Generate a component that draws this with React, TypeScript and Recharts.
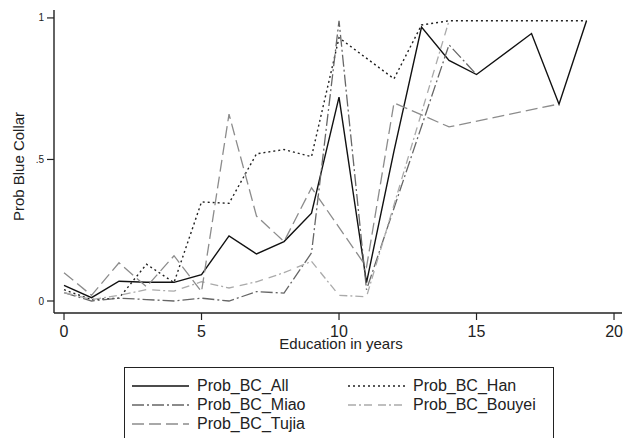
import React from 'react';
import { LineChart, Line, XAxis, YAxis } from 'recharts';

const EDUCATION = [0, 1, 2, 3, 4, 5, 6, 7, 8, 9, 10, 11, 12, 13, 14, 15, 16, 17, 18, 19];

const PROB_ALL = [0.055, 0.012, 0.07, 0.066, 0.066, 0.093, 0.23, 0.166, 0.21, 0.31, 0.72, 0.065, 0.53, 0.968, 0.85, 0.8, null, 0.945, 0.695, 0.99];
const PROB_HAN = [0.04, 0.005, 0.01, 0.13, 0.065, 0.35, 0.345, 0.52, 0.535, 0.51, 0.93, null, 0.785, 0.975, 0.99, null, null, null, null, 0.99];
const PROB_MIAO = [0.03, 0.0, 0.01, 0.005, 0.0, 0.01, 0.0, 0.033, 0.028, 0.17, 0.99, 0.04, null, null, 0.905, 0.8, null, null, null, null];
const PROB_BOUYEI = [0.03, 0.005, 0.02, 0.04, 0.035, 0.068, 0.046, 0.068, 0.1, 0.14, 0.02, 0.015, null, null, 0.99, null, null, null, null, null];
const PROB_TUJIA = [0.1, 0.02, 0.135, 0.05, 0.16, 0.033, 0.66, 0.3, 0.21, 0.4, 0.26, 0.12, 0.7, null, 0.615, null, null, null, 0.696, null];

const X_TICKS = [0, 5, 10, 15, 20];
const Y_TICKS = [0, 0.5, 1];
const Y_TICK_LABELS = ['0', '.5', '1'];

const data = EDUCATION.map((edu, i) => ({
  edu,
  all: PROB_ALL[i],
  han: PROB_HAN[i],
  miao: PROB_MIAO[i],
  bouyei: PROB_BOUYEI[i],
  tujia: PROB_TUJIA[i],
}));

const FONT = '"Liberation Sans", Arial, sans-serif';

const SERIES = [
  { key: 'all', name: 'Prob_BC_All', stroke: '#111', dash: undefined as string | undefined, width: 1.4 },
  { key: 'han', name: 'Prob_BC_Han', stroke: '#222', dash: '2 3', width: 1.4 },
  { key: 'miao', name: 'Prob_BC_Miao', stroke: '#666', dash: '12 3 2 3', width: 1.3 },
  { key: 'bouyei', name: 'Prob_BC_Bouyei', stroke: '#aaa', dash: '8 3 2 3 8 6', width: 1.3 },
  { key: 'tujia', name: 'Prob_BC_Tujia', stroke: '#8c8c8c', dash: '12 5', width: 1.3 },
];

// legend order as in the original (two columns, row major)
const LEGEND_ORDER = ['all', 'han', 'miao', 'bouyei', 'tujia'];

const LegendBox: React.FC = () => (
  <div
    style={{
      position: 'absolute',
      left: 124,
      top: 367,
      width: 430,
      height: 90,
      border: '1px solid #222',
      fontFamily: FONT,
      fontSize: 16,
      color: '#222',
      display: 'grid',
      gridTemplateColumns: '216px 214px',
      gridAutoRows: '19px',
      paddingTop: 8,
      boxSizing: 'border-box',
    }}
  >
    {LEGEND_ORDER.map(k => {
      const s = SERIES.find(x => x.key === k)!;
      return (
        <div key={k} style={{ display: 'flex', alignItems: 'center', whiteSpace: 'nowrap' }}>
          <svg width={72} height={19} style={{ flex: 'none' }}>
            <line x1={7} x2={64} y1={10} y2={10} stroke={s.stroke} strokeWidth={s.width} strokeDasharray={s.dash} />
          </svg>
          <span>{s.name}</span>
        </div>
      );
    })}
  </div>
);

const App: React.FC = () => {
  return (
    <div style={{ position: 'absolute', left: 0, top: 0, width: 623, height: 438, background: '#fff', overflow: 'hidden' }}>
      <LineChart width={623} height={438} data={data} margin={{ top: 10, right: 1, left: 0, bottom: 85 }}>
        <XAxis
          dataKey="edu"
          type="number"
          domain={[-0.364, 20.29]}
          allowDataOverflow
          ticks={X_TICKS}
          height={40}
          tickSize={7}
          tickMargin={6}
          axisLine={{ stroke: '#222', strokeWidth: 1.4 }}
          tickLine={{ stroke: '#222', strokeWidth: 1.2 }}
          tick={{ fill: '#222', fontSize: 16, fontFamily: FONT }}
          label={{
            content: (props: any) => {
              const vb = props.viewBox;
              return (
                <text x={vb.x + vb.width / 2 + 3} y={vb.y + 36} textAnchor="middle" fontSize={15} fontFamily={FONT} fill="#222">
                  Education in years
                </text>
              );
            },
          }}
        />
        <YAxis
          type="number"
          domain={[-0.0424, 1.028]}
          allowDataOverflow
          ticks={Y_TICKS}
          tickFormatter={(v: number) => Y_TICK_LABELS[Y_TICKS.indexOf(v)] ?? String(v)}
          width={54}
          tickSize={7}
          tickMargin={3}
          axisLine={{ stroke: '#222', strokeWidth: 1.4 }}
          tickLine={{ stroke: '#222', strokeWidth: 1.2 }}
          tick={{ fill: '#222', fontSize: 10, fontFamily: FONT }}
          label={{
            content: (props: any) => {
              const vb = props.viewBox;
              const cx = vb.x + 18;
              const cy = vb.y + vb.height / 2 + 5;
              return (
                <text x={cx} y={cy} transform={`rotate(-90 ${cx} ${cy})`} textAnchor="middle" dominantBaseline="central" fontSize={15} fontFamily={FONT} fill="#222">
                  Prob Blue Collar
                </text>
              );
            },
          }}
        />
        {SERIES.map(s => (
          <Line
            key={s.key}
            dataKey={s.key}
            name={s.name}
            type="linear"
            stroke={s.stroke}
            strokeWidth={s.width}
            strokeDasharray={s.dash}
            dot={false}
            activeDot={false}
            connectNulls
            isAnimationActive={false}
          />
        ))}
      </LineChart>
      <LegendBox />
    </div>
  );
};

export default App;
